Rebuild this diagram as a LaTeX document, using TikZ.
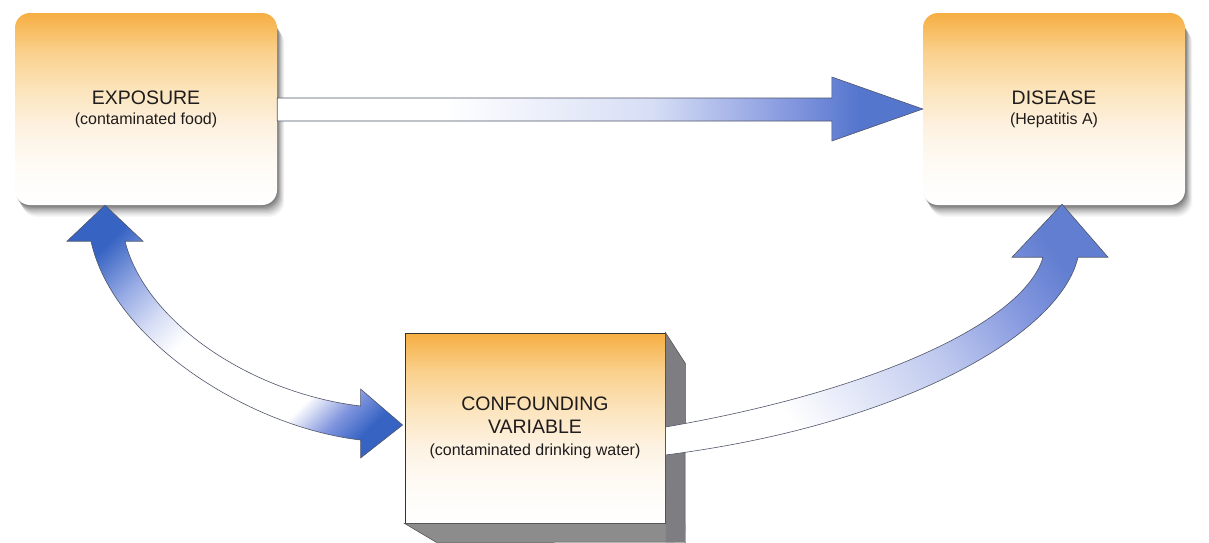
\documentclass[tikz,border=0pt]{standalone}
\usepackage{fontspec}
\setmainfont{Liberation Sans}
\usetikzlibrary{calc}

\definecolor{orangeT}{RGB}{246,174,66}
\definecolor{or1}{RGB}{250,208,140}
\definecolor{or2}{RGB}{252,228,188}
\definecolor{or3}{RGB}{253,242,226}
\definecolor{or4}{RGB}{254,251,246}
\definecolor{blueL}{RGB}{55,100,195}
\definecolor{blueS}{RGB}{85,118,205}
\definecolor{blueR}{RGB}{98,126,208}
\definecolor{lavA}{RGB}{190,200,238}
\definecolor{lavB}{RGB}{130,150,222}
\definecolor{lavC}{RGB}{215,222,245}
\definecolor{lavD}{RGB}{150,170,228}
\definecolor{txt}{RGB}{30,28,28}
\definecolor{edgec}{RGB}{80,85,105}
\definecolor{sideG}{RGB}{125,125,130}
\definecolor{botG}{RGB}{140,140,140}

\pgfdeclareverticalshading{boxsh}{100bp}{color(0bp)=(white); color(25bp)=(white); color(35bp)=(or4); color(45bp)=(or3); color(55bp)=(or2); color(65bp)=(or1); color(75bp)=(orangeT); color(100bp)=(orangeT)}
\pgfdeclarehorizontalshading{straightsh}{100bp}{color(0bp)=(white); color(38bp)=(white); color(54bp)=(lavC); color(65bp)=(lavB); color(70bp)=(blueS); color(100bp)=(blueS)}
\pgfdeclarehorizontalshading{doublesh}{100bp}{color(0bp)=(blueL); color(24bp)=(blueL); color(32bp)=(lavD); color(39bp)=(lavC); color(45bp)=(white); color(67bp)=(white); color(73bp)=(lavB); color(78bp)=(blueL); color(100bp)=(blueL)}
\pgfdeclarehorizontalshading{risesh}{100bp}{color(0bp)=(white); color(32bp)=(white); color(54bp)=(lavA); color(67bp)=(lavB); color(75bp)=(blueR); color(100bp)=(blueR)}

\pgfdeclarelayer{bg}
\pgfsetlayers{bg,main}

\begin{document}
\begin{tikzpicture}[x=1pt,y=-1pt,
  every node/.style={text=txt, align=center, inner sep=0pt, font=\fontsize{16}{20}\selectfont},
  roundbox/.style={minimum width=262pt, minimum height=192pt, rounded corners=15pt,
    shade, shading=boxsh},
  cubebox/.style={minimum width=260pt, minimum height=190pt, shade, shading=boxsh,
    draw=black!80, line width=0.9pt},
  shadowlayer/.style={fill=black, rounded corners=15pt},
  arrowline/.style={draw=edgec, line width=0.6pt, line join=miter}]

\useasboundingbox (0,0) rectangle (1209,542);

\node[roundbox] (expo) at (146,109)
  {{\fontsize{19.5}{20}\selectfont EXPOSURE}\\(contaminated food)};
\node[roundbox] (disease) at (1054,109)
  {{\fontsize{19.5}{20}\selectfont DISEASE}\\(Hepatitis A)};
\node[cubebox] (conf) at (535,428)
  {{\fontsize{19.5}{20}\selectfont CONFOUNDING}\\[3pt]{\fontsize{19.5}{20}\selectfont VARIABLE}\\[2pt](contaminated drinking water)};

\begin{pgfonlayer}{bg}
  \fill[white] (0,0) rectangle (1209,542);
  \foreach \n in {expo,disease}{
    \foreach \k/\o in {1/.10,2/.10,3/.09,4/.08,5/.07,6/.06,7/.05,8/.04,9/.03}{
      \fill[shadowlayer, opacity=\o] ($(\n.north west)+(\k*0.8,\k*1.3+4)$) rectangle ($(\n.south east)+(\k*0.8,\k*1.3)$);
    }
  }
\end{pgfonlayer}

% extrusion of the confounding box
\fill[sideG, draw=black!70, line width=0.5pt] (conf.north east) -- ++(20,31) -- (685,542) -- ($(conf.south east)+(20,19)$) -- (conf.south east) -- cycle;
\fill[botG, draw=black!70, line width=0.5pt] (conf.south west) -- ++(32,19) -- (685,542) -- ($(conf.south east)+(20,19)$) -- (conf.south east) -- cycle;
\fill[sideG] ($(conf.south east)+(0.5,0)$) -- ($(conf.south east)+(20,0)$) -- (685,542) -- ($(conf.south east)+(0.5,19)$) -- cycle;

\coordinate (L1) at ($(expo.south)+(-41,0)$);
\coordinate (L2) at ($(conf.west)+(-2,-3)$);
\coordinate (R0) at (conf.east);
\coordinate (R1) at ($(disease.south)+(8,-1)$);

% straight arrow exposure -> disease
\shade[arrowline, shading=straightsh]
  ($(expo.east)+(0,-11)$) -- ($(disease.west)+(-91,-11)$) -- ++(0,-21) -- (disease.west)
  -- ($(disease.west)+(-91,32)$) -- ++(0,-20) -- ($(expo.east)+(0,12)$) -- cycle;

% curved double arrow exposure <-> confounding
\shade[arrowline, shading=doublesh, shading angle=-45]
  (L1) -- ++(38,36) -- ++(-18,0) .. controls +(20,80) and +(-111,-13) .. ($(L2)+(-42,-19)$)
  -- ++(0,-17) -- (L2) -- ($(L2)+(-42,33)$) -- ++(0,-18)
  .. controls +(-111,-13) and +(22,100) .. ($(L1)+(-14,36)$) -- ++(-24,0) -- cycle;

% curved arrow confounding -> disease
\shade[arrowline, shading=risesh, shading angle=35]
  ($(R0)+(0,-1)$) .. controls +(215,-37) and +(-18,63) .. ($(R1)+(-19,53)$)
  -- ++(-31,0) -- (R1) -- ($(R1)+(46,53)$) -- ++(-30,0)
  .. controls +(-18,78) and +(235,-30) .. ($(R0)+(0,27)$) -- cycle;
\end{tikzpicture}
\end{document}
